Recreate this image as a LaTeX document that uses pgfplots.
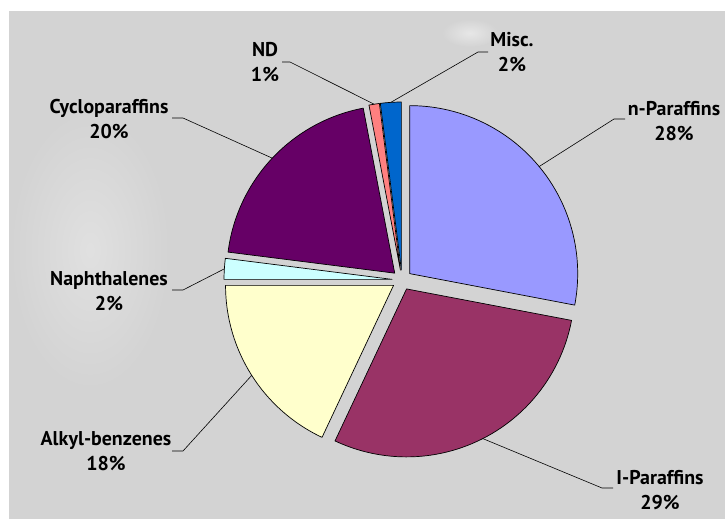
\documentclass[border=0pt]{standalone}
\usepackage{pgfplots}
\pgfplotsset{compat=1.18}
\usepackage{pgfplotstable}
\usepackage{fontspec}
\setmainfont{PT Sans}

% Slice colours, in the order of the table rows
\definecolor{slice0}{HTML}{9999FF}
\definecolor{slice1}{HTML}{993366}
\definecolor{slice2}{HTML}{FFFFCC}
\definecolor{slice3}{HTML}{CCFFFF}
\definecolor{slice4}{HTML}{660066}
\definecolor{slice5}{HTML}{FF8080}
\definecolor{slice6}{HTML}{0066CC}
\definecolor{bggray}{HTML}{D3D3D3}

% value = share in percent; lx,ly = label centre; ex,ey = leader elbow; hx,hy = leader end
\pgfplotstableread{
name value lx ly ex ey hx hy
n-Paraffins 28 674 121 614 119 625 119
I-Paraffins 29 660 490 602 488 613 488
Alkyl-benzenes 18 106 451 183 451 172 451
Naphthalenes 2 109 291 183 290 172 290
Cycloparaffins 20 109 119 183 118 172 118
ND 1 265 62 290 62 282 62
Misc. 2 512 52 478 52 488 52
}\pietable

\tikzset{lbl/.style={font=\bfseries\fontsize{20}{25}\selectfont, align=center, text=black, inner sep=0pt}}

\begin{document}
\begin{tikzpicture}
\begin{axis}[
  scale only axis, width=725bp, height=519bp,
  xmin=0, xmax=725, ymin=0, ymax=519, y dir=reverse,
  hide axis, clip=false,
]
% backdrop
\fill[white] (axis cs:0,0) rectangle (axis cs:725,519);
\fill[bggray] (axis cs:9,11) rectangle (axis cs:725,519);
\shade[inner color=white!30!bggray, outer color=bggray] (axis cs:90,250) circle[x radius=80bp, y radius=140bp];
\shade[inner color=white!45!bggray, outer color=bggray] (axis cs:470,33) circle[x radius=28bp, y radius=14bp];

% pie: clockwise from twelve o'clock, every slice pulled out along its bisector
\gdef\startangle{90}
\pgfplotsinvokeforeach{0,...,6}{%
  \pgfplotstablegetelem{#1}{value}\of\pietable \let\val\pgfplotsretval
  \pgfplotstablegetelem{#1}{name}\of\pietable \let\nm\pgfplotsretval
  \pgfplotstablegetelem{#1}{lx}\of\pietable \let\lx\pgfplotsretval
  \pgfplotstablegetelem{#1}{ly}\of\pietable \let\ly\pgfplotsretval
  \pgfplotstablegetelem{#1}{ex}\of\pietable \let\ex\pgfplotsretval
  \pgfplotstablegetelem{#1}{ey}\of\pietable \let\ey\pgfplotsretval
  \pgfplotstablegetelem{#1}{hx}\of\pietable \let\hx\pgfplotsretval
  \pgfplotstablegetelem{#1}{hy}\of\pietable \let\hy\pgfplotsretval
  \pgfmathsetmacro\endangle{\startangle-3.6*\val}
  \pgfmathsetmacro\midangle{(\startangle+\endangle)/2}
  \edef\doslice{%
    \noexpand\filldraw[fill=slice#1, draw=black, line width=0.7pt, line join=round]
      ([shift={(\midangle:10bp)}]axis cs:402,280) -- ++(\startangle:168bp)
      arc[start angle=\startangle, end angle=\endangle, radius=168bp] -- cycle;
    \noexpand\draw[black, line width=0.6pt]
      ([shift={(\midangle:10bp)}]axis cs:402,280) ++(\midangle:168bp)
      -- (axis cs:\ex,\ey) -- (axis cs:\hx,\hy);
    \noexpand\node[lbl] at (axis cs:\lx,\ly) {\nm\noexpand\\\val\noexpand\%};
  }%
  \doslice
  \xdef\startangle{\endangle}
}
\end{axis}
\end{tikzpicture}
\end{document}
